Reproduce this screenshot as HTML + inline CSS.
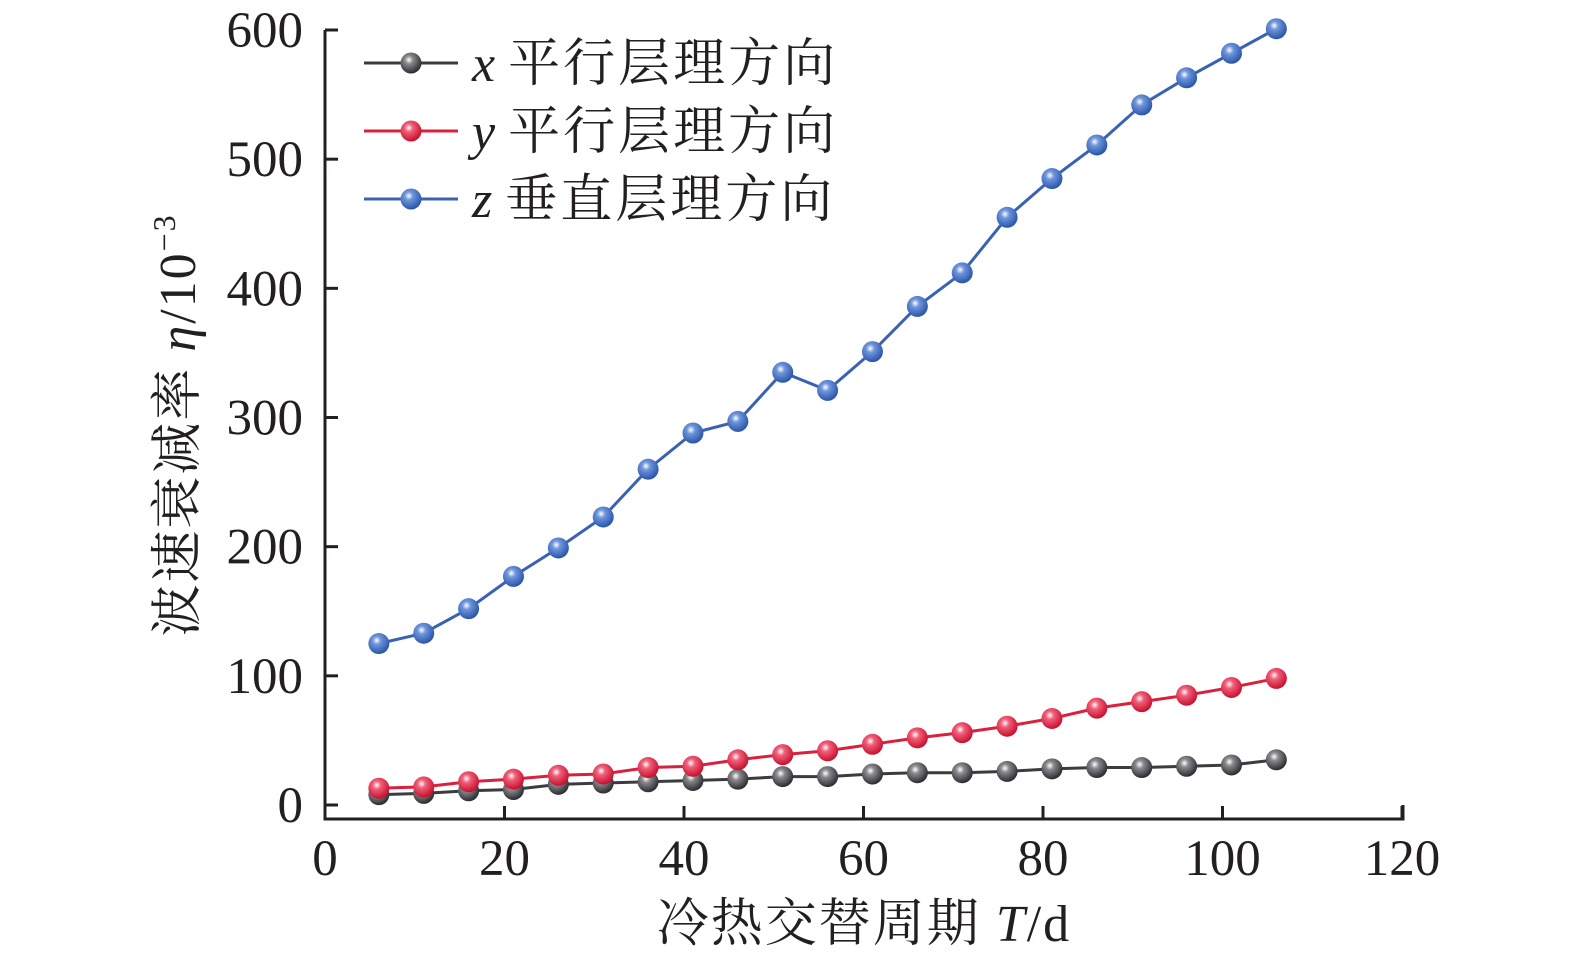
<!DOCTYPE html>
<html><head><meta charset="utf-8"><style>
body{margin:0;background:#fff}
svg text{font-family:"Liberation Serif","Noto Serif CJK SC",serif;fill:#231f20}
</style></head><body>
<svg width="1575" height="961">
<defs>
<radialGradient id="gk" cx="0.4" cy="0.35" r="0.65"><stop offset="0" stop-color="#fff"/><stop offset="0.3" stop-color="#8a8a8e"/><stop offset="1" stop-color="#2c2c30"/></radialGradient>
<radialGradient id="gr" cx="0.4" cy="0.35" r="0.65"><stop offset="0" stop-color="#fff"/><stop offset="0.3" stop-color="#f0607a"/><stop offset="1" stop-color="#c8102e"/></radialGradient>
<radialGradient id="gb" cx="0.4" cy="0.35" r="0.65"><stop offset="0" stop-color="#fff"/><stop offset="0.3" stop-color="#6f96dc"/><stop offset="1" stop-color="#2a55a8"/></radialGradient>
</defs>
<g id="plot"></g>
</svg>
<script>
const days=[6,11,16,21,26,31,36,41,46,51,56,61,66,71,76,81,86,91,96,101,106];
const xSeries=[8,9,11,12,16,17,18,19,20,22,22,24,25,25,26,28,29,29,30,31,35];
const ySeries=[13,14,18,20,23,24,29,30,35,39,42,47,52,56,61,67,75,80,85,91,98];
const zSeries=[125,133,152,177,199,223,260,288,297,335,321,351,386,412,455,485,511,542,563,582,601];
const xTicks=[0,20,40,60,80,100,120];
const yTicks=[0,100,200,300,400,500,600];
const X0=325,X1=1402,Y0=805,Y1=30;
const sx=v=>X0+v/120*(X1-X0), sy=v=>Y0-v/600*(Y0-Y1);
const NS='http://www.w3.org/2000/svg', g=document.getElementById('plot');
function el(t,a,p){const e=document.createElementNS(NS,t);for(const k in a)e.setAttribute(k,a[k]);(p||g).appendChild(e);return e;}
let ax=el('path',{d:`M${X0} 30 V819 H${X1+1} V805`,fill:'none',stroke:'#231f20','stroke-width':3});


yTicks.forEach(v=>{const y=sy(v);
 let t=el('line',{x1:X0,x2:X0+13,y1:y,y2:y,stroke:'#231f20','stroke-width':3});
 
 
 let l=el('text',{x:X0-22,y:y+17,'text-anchor':'end','font-size':51});l.textContent=v;
 
 });
xTicks.forEach(v=>{const x=sx(v);
 let t=el('line',{x1:x,x2:x,y1:819,y2:806,stroke:'#231f20','stroke-width':3});
 
 
 let l=el('text',{x:x,y:875,'text-anchor':'middle','font-size':51});l.textContent=v;
 
 });
const series=[[xSeries,'#3c3c40','gk','x-series'],[ySeries,'#d9213e','gr','y-series'],[zSeries,'#3a62b4','gb','z-series']];
series.forEach(([d,c,gr,n])=>{
 let p=el('polyline',{points:d.map((v,i)=>sx(days[i])+','+sy(v)).join(' '),fill:'none',stroke:c,'stroke-width':3});
 
 
 d.forEach((v,i)=>{let m=el('circle',{cx:sx(days[i]),cy:sy(v),r:10.5,fill:`url(#${gr})`});
  
  });
});
const leg=[['x','平行层理方向','#3c3c40','gk',63],['y','平行层理方向','#d9213e','gr',131],['z','垂直层理方向','#3a62b4','gb',199]];
leg.forEach(([a,b,c,gr,y])=>{
 let gg=el('g',{});
 
 
 el('line',{x1:364,x2:458,y1:y,y2:y,stroke:c,'stroke-width':3},gg);
 el('circle',{cx:411,cy:y,r:10.5,fill:`url(#${gr})`},gg);
 let t=el('text',{x:472,y:y+18,'font-size':52},gg);
 t.innerHTML=`<tspan font-style="italic">${a}</tspan> <tspan letter-spacing="3">${b}</tspan>`;
});
let xt=el('text',{x:864,y:941,'text-anchor':'middle','font-size':52,'letter-spacing':2});
xt.innerHTML='冷热交替周期 <tspan font-style="italic">T</tspan>/d';


let yt=el('text',{transform:'translate(195,425) rotate(-90)','text-anchor':'middle','font-size':52,'letter-spacing':2});
yt.innerHTML='波速衰减率 <tspan font-style="italic">η</tspan>/10<tspan dy="-20" font-size="32">−3</tspan>';


</script>
</body></html>
